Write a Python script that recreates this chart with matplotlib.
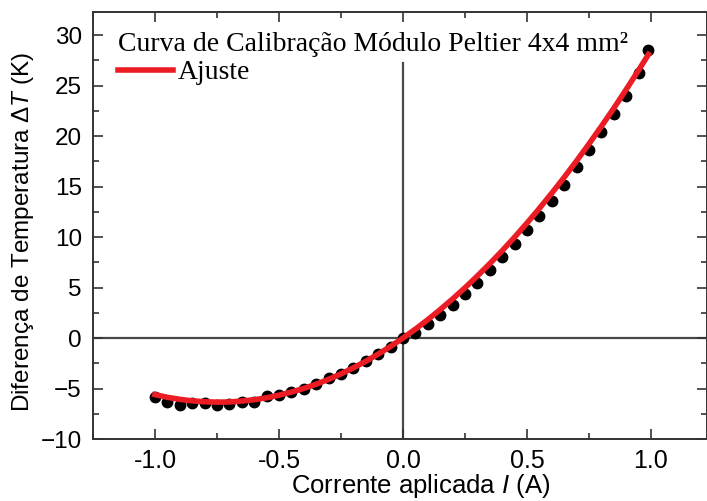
import numpy as np
import matplotlib
matplotlib.use("Agg")
import matplotlib.pyplot as plt
from matplotlib.ticker import MultipleLocator, FormatStrFormatter

plt.rcParams['font.family'] = ['Liberation Sans', 'DejaVu Sans']
plt.rcParams['mathtext.fontset'] = 'custom'
plt.rcParams['mathtext.rm'] = 'Liberation Sans'
plt.rcParams['mathtext.it'] = 'Liberation Sans:italic'

# measured current (A) and temperature difference (K)
corrente = [-1.00, -0.95, -0.90, -0.85, -0.80, -0.75, -0.70, -0.65, -0.60, -0.55,
            -0.50, -0.45, -0.40, -0.35, -0.30, -0.25, -0.20, -0.15, -0.10, -0.05,
            0.00, 0.05, 0.10, 0.15, 0.20, 0.25, 0.30, 0.35, 0.40, 0.45,
            0.50, 0.55, 0.60, 0.65, 0.70, 0.75, 0.80, 0.85, 0.90, 0.95, 0.99]
delta_t = [-5.8, -6.3, -6.6, -6.4, -6.4, -6.6, -6.5, -6.3, -6.3, -5.7,
           -5.6, -5.3, -5.0, -4.6, -4.0, -3.6, -3.0, -2.3, -1.6, -0.9,
           0.0, 0.5, 1.4, 2.3, 3.3, 4.4, 5.5, 6.7, 8.0, 9.3,
           10.7, 12.1, 13.6, 15.2, 16.9, 18.6, 20.4, 22.2, 24.0, 26.3, 28.5]

# fitted curve
corrente_fit = [-1.00, -0.95, -0.90, -0.85, -0.80, -0.75, -0.70, -0.65, -0.60, -0.55,
                -0.50, -0.45, -0.40, -0.35, -0.30, -0.25, -0.20, -0.15, -0.10, -0.05,
                0.00, 0.05, 0.10, 0.15, 0.20, 0.25, 0.30, 0.35, 0.40, 0.45,
                0.50, 0.55, 0.60, 0.65, 0.70, 0.75, 0.80, 0.85, 0.90, 0.95, 0.99]
delta_t_fit = [-5.60, -5.87, -6.07, -6.22, -6.31, -6.35, -6.33, -6.24, -6.11, -5.92,
               -5.66, -5.35, -4.99, -4.57, -4.09, -3.55, -2.95, -2.30, -1.59, -0.83,
               0.00, 0.88, 1.82, 2.82, 3.87, 4.98, 6.15, 7.37, 8.65, 9.99,
               11.39, 12.84, 14.35, 15.92, 17.55, 19.23, 20.97, 22.76, 24.62, 26.53, 28.10]

fig = plt.figure(figsize=(7.07, 5.01), dpi=100)
ax = fig.add_axes([93 / 707, 62 / 501, 614 / 707, 427 / 501])

ax.axhline(0, color='#4a4a4a', lw=1.6, zorder=1)
ax.axvline(0, ymin=0, ymax=0.88, color='#4a4a4a', lw=1.6, zorder=1)

ax.plot(corrente, delta_t, 'o', color='black', ms=7.5, zorder=2)
ax.plot(corrente_fit, delta_t_fit, '-', color='#ec1c24', lw=4, zorder=3,
        label='Ajuste')

ax.set_xlim(-1.25, 1.226)
ax.set_ylim(-10, 32.3)
ax.xaxis.set_major_locator(MultipleLocator(0.5))
ax.xaxis.set_minor_locator(MultipleLocator(0.25))
ax.yaxis.set_major_locator(MultipleLocator(5))
ax.yaxis.set_minor_locator(MultipleLocator(2.5))
ax.xaxis.set_major_formatter(FormatStrFormatter('%.1f'))
ax.tick_params(which='both', direction='in', top=True, right=True,
               width=1.2, color='#333333')
ax.tick_params(which='major', length=7)
ax.tick_params(which='minor', length=4)
ax.tick_params(axis='x', labelsize=18, pad=7)
ax.tick_params(axis='y', labelsize=17.5, pad=8)
for s in ax.spines.values():
    s.set_linewidth(1.4)
    s.set_color('#333333')

ax.set_xlabel('Corrente aplicada $I$ (A)', fontsize=18.5)
ax.xaxis.set_label_coords(0.533, -0.077)
ax.set_ylabel('Diferença de Temperatura Δ$T$ (K)', fontsize=17.5)
ax.yaxis.set_label_coords(-0.093, 0.485)

leg = ax.legend(title='Curva de Calibração Módulo Peltier 4x4 mm²',
                loc='upper left', bbox_to_anchor=(0.04, 0.953),
                frameon=False, handlelength=2.0, handletextpad=0.15,
                borderaxespad=0, borderpad=0, labelspacing=0.1,
                prop={'family': 'Liberation Serif', 'size': 20},
                title_fontproperties={'family': 'Liberation Serif', 'size': 20})
leg._legend_box.align = 'left'
leg._legend_box.sep = 2

fig.savefig('out.png', dpi=100)
